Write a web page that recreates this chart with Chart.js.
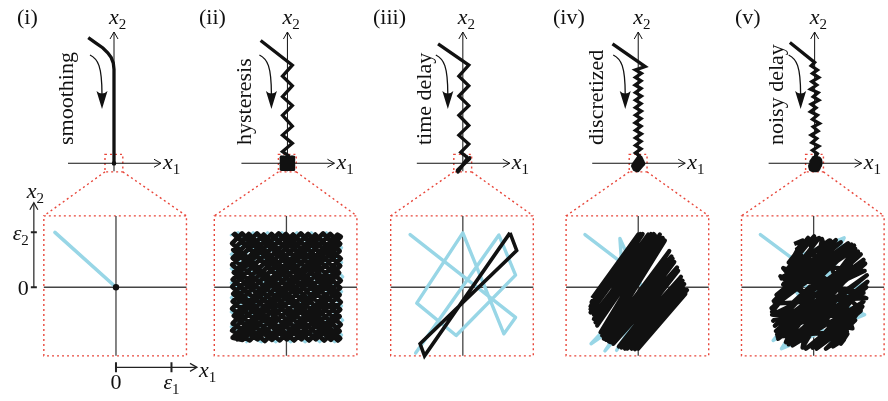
<!DOCTYPE html>
<html>
<head>
<meta charset="utf-8">
<script src="https://cdn.jsdelivr.net/npm/chart.js@4.4.1/dist/chart.umd.min.js"></script>
<style>
  html, body { margin: 0; padding: 0; background: #fff; }
  #wrap { position: relative; width: 888px; height: 401px; }
</style>
</head>
<body>
<div id="wrap"><canvas id="chart"></canvas></div>
<script>
// panel titles and the mechanism written along each sketch
const panelLabels = ["(i)", "(ii)", "(iii)", "(iv)", "(v)"];
const mechanisms = ["smoothing", "hysteresis", "time delay", "discretized", "noisy delay"];

// tick labels of the zoomed axes in panel (i): [value, symbol, subscript]
const zoomTicksX = [[0, "0", ""], [1, "ε", "1"]];
const zoomTicksY = [[0, "0", ""], [1, "ε", "2"]];

// approach to the surface x1 = 0 (units of epsilon)
const farSmoothing = [[-3.71, 18.3], [-2.6, 17.5], [-1.6, 16.8], [-0.9, 16.1], [-0.4, 15.4], [-0.1, 14.6], [0, 13.7], [0, -0.3]];
const farHysteresis = [[-3.86, 17.9], [0.71, 14.3], [-0.71, 12.7], [0.71, 11.3], [-0.71, 9.7], [0.71, 8.4], [-0.71, 7.0],
  [0.71, 5.4], [-0.71, 4.1], [0.71, 2.9], [-0.71, 1.7], [0.3, 1.0]];
const farDelay = [[-3.57, 17.4], [0.86, 14.3], [-0.57, 12.7], [0.86, 11.3], [-0.57, 9.8], [0.86, 8.4], [-0.57, 7.0],
  [0.86, 5.5], [-0.57, 4.1], [0.86, 2.8], [-0.3, 1.6], [0.6, 0.9]];
const farDiscrete = [[-3.71, 17.4], [1.0, 14.1], [-0.4, 13.6], [0.45, 13.1], [-0.4, 12.5], [0.4, 12.0], [-0.45, 11.4],
  [0.4, 10.9], [-0.4, 10.3], [0.45, 9.8], [-0.4, 9.2], [0.4, 8.7], [-0.4, 8.1], [0.45, 7.6], [-0.4, 7.0], [0.4, 6.5],
  [-0.45, 5.9], [0.4, 5.4], [-0.4, 4.8], [0.45, 4.3], [-0.4, 3.7], [0.4, 3.2], [-0.4, 2.6], [0.4, 2.1], [-0.4, 1.5], [0.3, 1.0]];
const farNoisy = [[-3.57, 17.6], [0, 14.7], [-0.5, 14.2], [0.4, 13.6], [-0.3, 13.1], [0.6, 12.5], [-0.4, 11.9], [0.3, 11.4],
  [-0.6, 10.8], [0.5, 10.3], [-0.2, 9.7], [0.6, 9.2], [-0.5, 8.6], [0.2, 8.1], [-0.6, 7.5], [0.4, 7.0], [-0.3, 6.4],
  [0.7, 5.8], [-0.2, 5.3], [0.5, 4.7], [-0.5, 4.1], [0.3, 3.6], [-0.4, 3.0], [0.6, 2.5], [-0.3, 1.9], [0.4, 1.4], [0, 0.8]];

// zoomed view near the origin: ideal (blue) and actual (black) trajectories
const smoothIdeal = [[-1.1, 1.0], [0, 0]];
const smoothActual = [[0, 0]];

const hysteresisIdeal = [[-1.0, 0.95], [-0.87, 1.0], [1.0, -0.87], [0.87, -1.0], [-1.0, 0.6], [-0.6, 1.0], [1.02, -0.6],
  [0.6, -1.0], [-1.0, 0.34], [-0.34, 1.0], [1.0, -0.34], [0.34, -1.0], [-1.0, 0.08], [-0.08, 1.0], [1.0, -0.08],
  [0.08, -1.0], [-1.0, -0.19], [0.19, 1.0], [1.02, 0.19], [-0.19, -1.0], [-1.0, -0.45], [0.45, 1.0], [1.0, 0.45],
  [-0.45, -1.0], [-1.0, -0.72], [0.72, 1.0], [1.0, 0.72], [-0.72, -1.0]];
const hysteresisActual = [
  [-0.97, 0.93], [-0.93, 0.97], [0.97, -0.93], [0.93, -0.97],
  [-0.98, 0.8], [-0.8, 0.98], [0.96, -0.8], [0.8, -0.96],
  [-0.96, 0.68], [-0.68, 0.97], [0.98, -0.68], [0.68, -0.97],
  [-0.97, 0.53], [-0.53, 0.98], [0.96, -0.53], [0.53, -0.95],
  [-0.98, 0.41], [-0.41, 0.96], [0.97, -0.41], [0.41, -0.97],
  [-0.95, 0.27], [-0.27, 0.97], [0.98, -0.27], [0.27, -0.95],
  [-0.97, 0.14], [-0.14, 0.98], [0.96, -0.14], [0.14, -0.97],
  [-0.98, 0.01], [-0.01, 0.97], [0.97, -0.01], [0.01, -0.95],
  [-0.96, -0.12], [0.12, 0.96], [0.98, 0.12], [-0.12, -0.97],
  [-0.97, -0.26], [0.26, 0.98], [0.95, 0.26], [-0.26, -0.96],
  [-0.98, -0.39], [0.39, 0.97], [0.97, 0.39], [-0.39, -0.98],
  [-0.95, -0.52], [0.52, 0.96], [0.98, 0.52], [-0.52, -0.95],
  [-0.97, -0.66], [0.66, 0.98], [0.96, 0.66], [-0.66, -0.97],
  [-0.98, -0.79], [0.79, 0.97], [0.97, 0.79], [-0.79, -0.96],
  [-0.97, -0.92], [0.92, 0.96], [0.98, 0.92], [-0.92, -0.97]];

const delayIdeal = [[-0.95, 0.96], [0.95, -0.55], [0.74, -0.85], [0, 0.99], [-0.83, -0.29], [-0.12, -0.88],
  [0.95, 0.22], [0.65, 0.95], [-0.85, -1.2]];
const delayActual = [[0.85, 0.99], [0.97, 0.67], [-0.77, -1.03], [-0.69, -1.25], [0.85, 0.99]];

const discreteIdeal = [[-0.96, 0.96], [-0.3, 0.45], [-0.33, 0.89], [0.2, -0.3], [-0.85, -1.03], [0.3, 0.2],
  [-0.6, -1.16], [0.5, 0.1], [-0.39, -1.15], [0.6, 0.5]];
const discreteActual = [[-0.83, -0.2], [0, 0.96], [-0.86, -0.35], [0.08, 0.97], [-0.86, -0.46], [0.18, 0.96],
  [-0.8, -0.58], [0.28, 0.97], [-0.74, -0.7], [0.39, 0.96], [-0.68, -0.82], [0.48, 0.85], [-0.62, -0.94],
  [0.56, 0.66], [-0.53, -0.99], [0.65, 0.46], [-0.45, -1.03], [0.72, 0.3], [-0.35, -1.08], [0.77, 0.19],
  [-0.24, -1.12], [0.83, 0.06], [-0.12, -1.12], [0.88, -0.05], [0.0, -1.12], [0.85, -0.12],
  [-0.06, -1.13], [0.8, 0.12], [-0.3, -1.1], [0.7, 0.36], [-0.5, -1.0], [0.6, 0.56], [-0.65, -0.88],
  [0.44, 0.9], [-0.77, -0.64], [0.23, 0.97], [-0.86, -0.4], [0.04, 0.97], [-0.84, -0.27],
  [-0.8, -0.5], [0.3, 0.95], [-0.58, -0.96], [0.62, 0.52], [-0.2, -1.12], [0.86, -0.02]];

const noisyIdeal = [[-0.96, 0.96], [-0.38, 0.52], [0.55, 0.9], [-0.2, -0.5], [0.97, 0.1], [-0.73, -0.97],
  [0.5, 0.6], [-0.58, -1.12], [0.92, -0.5], [-0.5, 0.2], [0.3, -1.0]];
const noisyActual = [[-0.35, 0.79], [-0.2, 0.85], [-0.38, 0.52], [0.01, 0.93], [-0.5, 0.3], [0.28, 0.85],
  [-0.58, 0.16], [0.49, 0.82], [-0.67, -0.14], [0.62, 0.8], [-0.76, -0.38], [0.73, 0.76], [-0.73, -0.61],
  [0.85, 0.6], [-0.68, -0.8], [0.93, 0.43], [-0.64, -0.94], [0.96, 0.22], [-0.5, -1.0], [0.95, 0.0],
  [-0.38, -1.06], [0.9, -0.26], [-0.14, -1.12], [0.85, -0.43], [0.05, -1.12], [0.75, -0.6], [0.22, -1.12],
  [0.61, -0.85], [0.49, -1.03], [0.55, -0.95],
  [0.35, -1.08], [0.88, -0.35], [-0.02, -1.1], [0.97, 0.1], [-0.45, -1.04], [0.9, 0.5], [-0.7, -0.7],
  [0.68, 0.78], [-0.72, -0.25], [0.4, 0.86], [-0.55, 0.05], [0.1, 0.9], [-0.3, 0.7],
  [0.6, -0.7], [-0.6, 0.2], [0.9, -0.1], [-0.66, -0.86], [0.8, 0.65], [-0.2, -1.1], [0.15, 0.88],
  [0.7, -0.75], [-0.75, -0.5], [0.92, 0.3], [-0.45, 0.45],
  [-0.1, 0.9], [0.5, -0.9], [-0.55, 0.35], [0.95, -0.2], [-0.7, -0.3], [0.75, 0.7], [-0.5, -1.0],
  [0.3, 0.85], [-0.75, -0.45], [0.85, -0.4], [-0.3, 0.6], [0.6, -0.8], [-0.65, -0.9], [0.9, 0.45]];

// layout (pixels)
const W = 888, H = 401;
const farOriginX = [111, 286, 463, 640, 818];
const farOriginY = 162.5;
const zoomOriginX = [113, 285, 463, 640, 817];
const zoomOriginY = 289;
const farUnit = 7;    // px per epsilon in the upper sketches
const zoomUnit = 56;  // px per epsilon in the zoom boxes
const box = { x0: -1.3, x1: 1.27, y0: -1.25, y1: 1.3 };
const nameBaseline = [-41, -36, -32, -35, -32];
const turnTip = [-12, -16, -15, -13, -14];

const BLUE = "#98d6e6";
const BLACK = "#111";
const RED = "rgb(232,70,58)";
const SERIF = "'Liberation Serif', 'Times New Roman', serif";

const scales = {};
for (let p = 0; p < 5; p++) {
  scales["xf" + p] = { type: "linear", axis: "x", display: false, min: -farOriginX[p] / farUnit, max: (W - farOriginX[p]) / farUnit };
  scales["yf" + p] = { type: "linear", axis: "y", display: false, min: -(H - farOriginY) / farUnit, max: farOriginY / farUnit };
  scales["xz" + p] = { type: "linear", axis: "x", display: false, min: -zoomOriginX[p] / zoomUnit, max: (W - zoomOriginX[p]) / zoomUnit };
  scales["yz" + p] = { type: "linear", axis: "y", display: false, min: -(H - zoomOriginY) / zoomUnit, max: zoomOriginY / zoomUnit };
}

function line(arr, p, view, color, width, extra) {
  return Object.assign({
    data: arr.map(([x, y]) => ({ x, y })),
    xAxisID: "x" + view + p,
    yAxisID: "y" + view + p,
    showLine: true,
    borderColor: color,
    borderWidth: width,
    pointRadius: 0,
    tension: 0,
    borderJoinStyle: "miter",
    order: color === BLUE ? 2 : 1
  }, extra || {});
}

const far = [farSmoothing, farHysteresis, farDelay, farDiscrete, farNoisy];
const ideal = [smoothIdeal, hysteresisIdeal, delayIdeal, discreteIdeal, noisyIdeal];
const actual = [null, hysteresisActual, delayActual, discreteActual, noisyActual];
const zoomWidth = [0, 4.6, 3.6, 4.2, 4.3];
const idealWidth = [3.6, 2.6, 3.4, 3.4, 3.4];
const blobWidth = [0, 2.2, 3.6, 2.4, 2.6];

const datasets = [];
for (let p = 0; p < 5; p++) {
  datasets.push(line(far[p], p, "f", BLACK, 3.3));
  datasets.push(line(ideal[p], p, "z", BLUE, idealWidth[p], { borderJoinStyle: "round", borderCapStyle: "round" }));
  if (actual[p]) {
    datasets.push(line(actual[p], p, "z", BLACK, zoomWidth[p], { borderJoinStyle: p === 2 ? "miter" : "round" }));
    datasets.push(line(actual[p], p, "f", BLACK, blobWidth[p], { borderJoinStyle: "round" }));
  }
}
datasets.push(line(smoothActual, 0, "z", BLACK, 0, { showLine: false, pointRadius: 3.2, pointBackgroundColor: BLACK, pointBorderWidth: 0 }));
datasets.push(line(smoothActual, 0, "f", BLACK, 0, { showLine: false, pointRadius: 2.2, pointBackgroundColor: BLACK, pointBorderWidth: 0 }));

function chevron(ctx, tx, ty, dx, dy) {
  const len = 7, hw = 4;
  const bx = tx - dx * len, by = ty - dy * len;
  ctx.beginPath();
  ctx.moveTo(bx - dy * hw, by + dx * hw);
  ctx.lineTo(tx, ty);
  ctx.lineTo(bx + dy * hw, by - dx * hw);
  ctx.stroke();
}

function mathLabel(ctx, x, y, main, sub, align) {
  ctx.font = "italic 22px " + SERIF;
  const w1 = ctx.measureText(main).width;
  ctx.font = "15px " + SERIF;
  const w2 = sub ? ctx.measureText(sub).width : 0;
  let left = x;
  if (align === "center") left = x - (w1 + w2) / 2;
  if (align === "right") left = x - (w1 + w2);
  ctx.textAlign = "left";
  ctx.textBaseline = "alphabetic";
  ctx.font = (main === "0" ? "" : "italic ") + "22px " + SERIF;
  ctx.fillText(main, left, y);
  if (sub) {
    ctx.font = "15px " + SERIF;
    ctx.fillText(sub, left + w1, y + 5);
  }
}

const diagram = {
  id: "diagram",
  beforeDatasetsDraw(chart) {
    const ctx = chart.ctx;
    ctx.save();
    for (let p = 0; p < 5; p++) {
      const xf = chart.scales["xf" + p], yf = chart.scales["yf" + p];
      const xz = chart.scales["xz" + p], yz = chart.scales["yz" + p];

      // red dotted boxes and the lines joining them
      ctx.strokeStyle = RED;
      ctx.lineWidth = 1.4;
      ctx.setLineDash([2, 3]);
      const sx0 = xf.getPixelForValue(box.x0), sx1 = xf.getPixelForValue(box.x1);
      const sy0 = yf.getPixelForValue(box.y1), sy1 = yf.getPixelForValue(box.y0);
      ctx.strokeRect(sx0, sy0, sx1 - sx0, sy1 - sy0);
      const bx0 = xz.getPixelForValue(box.x0), bx1 = xz.getPixelForValue(box.x1);
      const by0 = yz.getPixelForValue(box.y1), by1 = yz.getPixelForValue(box.y0);
      ctx.strokeRect(bx0, by0, bx1 - bx0, by1 - by0);
      ctx.beginPath();
      ctx.moveTo(sx0, sy1); ctx.lineTo(bx0, by0);
      ctx.moveTo(sx1, sy1); ctx.lineTo(bx1, by0);
      ctx.stroke();
      ctx.setLineDash([]);

      // axes inside the zoom box
      ctx.strokeStyle = "#444";
      ctx.lineWidth = 1.3;
      const zx = xz.getPixelForValue(0), zy = yz.getPixelForValue(0);
      ctx.beginPath();
      ctx.moveTo(bx0, zy); ctx.lineTo(bx1, zy);
      ctx.moveTo(zx, by0); ctx.lineTo(zx, by1);
      ctx.stroke();

      // axes of the upper sketch
      ctx.strokeStyle = "#111";
      ctx.lineWidth = 1;
      const fx = xf.getPixelForValue(0), fy = yf.getPixelForValue(0);
      const tipX = fx + 47, tipY = 32;
      ctx.beginPath();
      ctx.moveTo(fx - 46, fy); ctx.lineTo(tipX, fy);
      ctx.moveTo(fx, fy + 8); ctx.lineTo(fx, tipY);
      ctx.stroke();
      chevron(ctx, tipX, fy, 1, 0);
      chevron(ctx, fx, tipY, 0, -1);
    }

    // extra axes with ticks below / left of the first zoom box
    const xz = chart.scales.xz0, yz = chart.scales.yz0;
    const ax = xz.getPixelForValue(-1.48);
    const ay = yz.getPixelForValue(-1.46);
    ctx.strokeStyle = "#222";
    ctx.lineWidth = 1.2;
    ctx.beginPath();
    ctx.moveTo(ax, yz.getPixelForValue(0)); ctx.lineTo(ax, yz.getPixelForValue(1.54));
    ctx.moveTo(xz.getPixelForValue(0), ay); ctx.lineTo(xz.getPixelForValue(1.46), ay);
    ctx.stroke();
    chevron(ctx, ax, yz.getPixelForValue(1.54), 0, -1);
    chevron(ctx, xz.getPixelForValue(1.46), ay, 1, 0);
    ctx.lineWidth = 2;
    ctx.beginPath();
    zoomTicksY.forEach(([v]) => { const y = yz.getPixelForValue(v); ctx.moveTo(ax - 3, y); ctx.lineTo(ax + 3, y); });
    zoomTicksX.forEach(([v]) => { const x = xz.getPixelForValue(v); ctx.moveTo(x, ay - 5); ctx.lineTo(x, ay + 5); });
    ctx.stroke();
    ctx.restore();
  },
  afterDatasetsDraw(chart) {
    const ctx = chart.ctx;
    ctx.save();
    ctx.fillStyle = "#111";
    ctx.strokeStyle = "#111";
    const titleX = [17, 199, 373, 553, 735];
    for (let p = 0; p < 5; p++) {
      const fx = chart.scales["xf" + p].getPixelForValue(0);
      const fy = chart.scales["yf" + p].getPixelForValue(0);

      ctx.font = "22px " + SERIF;
      ctx.textAlign = "left";
      ctx.textBaseline = "alphabetic";
      ctx.fillText(panelLabels[p], titleX[p], 24);

      mathLabel(ctx, fx - 5, 24, "x", "2", "left");
      mathLabel(ctx, fx + 49, fy + 6, "x", "1", "left");

      // rotated mechanism name
      ctx.save();
      ctx.translate(fx + nameBaseline[p], 145);
      ctx.rotate(-Math.PI / 2);
      ctx.font = "22px " + SERIF;
      ctx.textAlign = "left";
      ctx.textBaseline = "alphabetic";
      ctx.fillText(mechanisms[p], 0, 0);
      ctx.restore();

      // curved arrow showing the direction of motion
      const tx = fx + turnTip[p];
      ctx.lineWidth = 1.3;
      ctx.beginPath();
      ctx.moveTo(tx - 12, 55);
      ctx.bezierCurveTo(tx - 4, 59, tx, 66, tx, 95);
      ctx.stroke();
      ctx.beginPath();
      ctx.moveTo(tx, 109);
      ctx.lineTo(tx - 5.5, 91);
      ctx.quadraticCurveTo(tx, 96, tx + 5.5, 91);
      ctx.closePath();
      ctx.fill();
    }

    // tick labels and axis names of the first zoom box
    const xz = chart.scales.xz0, yz = chart.scales.yz0;
    const ax = xz.getPixelForValue(-1.48);
    const ay = yz.getPixelForValue(-1.46);
    zoomTicksY.forEach(([v, s, sub]) => mathLabel(ctx, ax - 5, yz.getPixelForValue(v) + 8, s, sub, "right"));
    zoomTicksX.forEach(([v, s, sub]) => mathLabel(ctx, xz.getPixelForValue(v), ay + 22, s, sub, "center"));
    mathLabel(ctx, ax - 7, yz.getPixelForValue(1.54) - 5, "x", "2", "left");
    mathLabel(ctx, xz.getPixelForValue(1.46) + 2, ay + 10, "x", "1", "left");
    ctx.restore();
  }
};

new Chart(document.getElementById("chart"), {
  type: "scatter",
  data: { datasets: datasets },
  options: {
    responsive: true,
    maintainAspectRatio: false,
    animation: false,
    events: [],
    layout: { padding: 0 },
    scales: scales,
    plugins: { legend: { display: false }, tooltip: { enabled: false } }
  },
  plugins: [diagram]
});
</script>
</body>
</html>
